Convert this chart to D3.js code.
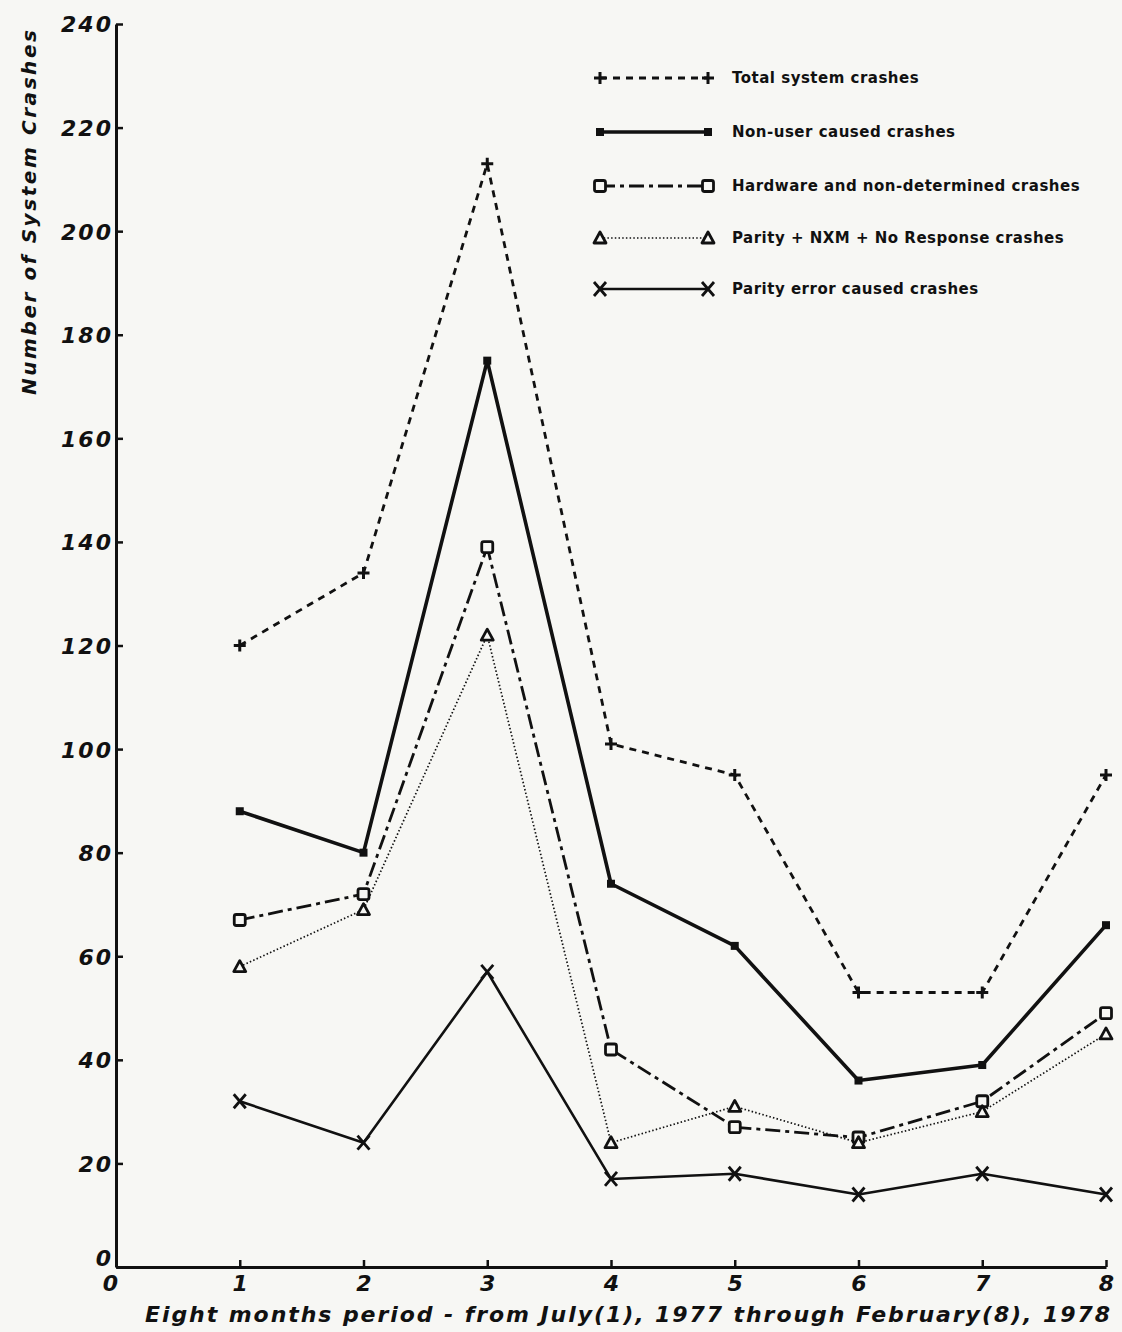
<!DOCTYPE html>
<html>
<head>
<meta charset="utf-8">
<script src="https://cdn.jsdelivr.net/npm/d3@7"></script>
<style>
  html, body { margin: 0; padding: 0; background: #f7f7f4; }
  svg { display: block; }
  text { font-family: "DejaVu Sans", "Liberation Sans", Arial, sans-serif; fill: #111; }
</style>
</head>
<body>
<svg id="chart" width="1122" height="1332"></svg>
<script>
// ---- data ----
const months = [1, 2, 3, 4, 5, 6, 7, 8];
const xTickValues = [0, 1, 2, 3, 4, 5, 6, 7, 8];
const yTickValues = [0, 20, 40, 60, 80, 100, 120, 140, 160, 180, 200, 220, 240];
const seriesNames = [
  "Total system crashes",
  "Non-user caused crashes",
  "Hardware and non-determined crashes",
  "Parity + NXM + No Response crashes",
  "Parity error caused crashes"
];
const totalCrashes     = [120, 134, 213, 101, 95, 53, 53, 95];
const nonUserCrashes   = [88, 80, 175, 74, 62, 36, 39, 66];
const hardwareCrashes  = [67, 72, 139, 42, 27, 25, 32, 49];
const parityNxmCrashes = [58, 69, 122, 24, 31, 24, 30, 45];
const parityErrCrashes = [32, 24, 57, 17, 18, 14, 18, 14];
const xTitle = "Eight months period - from July(1), 1977 through February(8), 1978";
const yTitle = "Number of System Crashes";

// ---- styles ----
const styles = [
  { values: totalCrashes,     marker: "plus",  width: 2.8, dash: "7,6" },
  { values: nonUserCrashes,   marker: "fsq",   width: 3.6, dash: null },
  { values: hardwareCrashes,  marker: "osq",   width: 2.8, dash: "15,5,4,5" },
  { values: parityNxmCrashes, marker: "tri",   width: 1.7, dash: "1.5,2.2" },
  { values: parityErrCrashes, marker: "cross", width: 2.6, dash: null }
];
const ink = "#111";
const paper = "#f7f7f4";

const svg = d3.select("#chart");
const x = d3.scaleLinear().domain([0, 8]).range([116, 1106]);
const y = d3.scaleLinear().domain([0, 240]).range([1267, 24]);

// ---- axes ----
const yAxis = d3.axisLeft(y).tickValues(yTickValues).tickSizeInner(-7).tickSizeOuter(0).tickPadding(3);
const gy = svg.append("g").attr("transform", `translate(${x(0)},0)`).call(yAxis);
gy.select(".domain").attr("stroke", ink).attr("stroke-width", 3);
gy.selectAll(".tick line").attr("stroke", ink).attr("stroke-width", 2.5);
gy.selectAll(".tick text")
  .style("font-family", "DejaVu Sans, sans-serif")
  .style("font-size", "22px").style("font-weight", "bold").style("font-style", "italic")
  .style("letter-spacing", "2px").attr("fill", ink)
  .attr("dy", d => d === 0 ? "-0.05em" : "0.36em");

const xAxis = d3.axisBottom(x).tickValues(xTickValues).tickSizeInner(-7).tickSizeOuter(0).tickPadding(9);
const gx = svg.append("g").attr("transform", `translate(0,${y(0)})`).call(xAxis);
gx.select(".domain").attr("stroke", ink).attr("stroke-width", 3);
gx.selectAll(".tick line").attr("stroke", ink).attr("stroke-width", 2.5);
gx.selectAll(".tick line").filter(d => d === 0).remove();
gx.selectAll(".tick text")
  .style("font-family", "DejaVu Sans, sans-serif")
  .style("font-size", "22px").style("font-weight", "bold").style("font-style", "italic")
  .attr("fill", ink).attr("dx", d => d === 0 ? -6 : 0).attr("dy", "0.68em");

// titles
svg.append("text")
  .attr("x", 1110).attr("y", 1322).attr("text-anchor", "end")
  .attr("textLength", 965).attr("lengthAdjust", "spacing")
  .style("font-size", "22px").style("font-weight", "bold").style("font-style", "italic")
  .text(xTitle);

svg.append("text")
  .attr("transform", "translate(36,395) rotate(-90)")
  .attr("text-anchor", "start")
  .attr("textLength", 365).attr("lengthAdjust", "spacing")
  .style("font-size", "20px").style("font-weight", "bold").style("font-style", "italic")
  .text(yTitle);

// ---- markers ----
function drawMarker(g, type, cx, cy) {
  if (type === "plus") {
    g.append("path").attr("d", `M${cx-6},${cy}H${cx+6}M${cx},${cy-6}V${cy+6}`)
      .attr("stroke", ink).attr("stroke-width", 3).attr("fill", "none");
  } else if (type === "fsq") {
    g.append("rect").attr("x", cx-4).attr("y", cy-4).attr("width", 8).attr("height", 8).attr("fill", ink);
  } else if (type === "osq") {
    g.append("rect").attr("x", cx-5.5).attr("y", cy-5.5).attr("width", 11).attr("height", 11).attr("rx", 2)
      .attr("fill", paper).attr("stroke", ink).attr("stroke-width", 2.8);
  } else if (type === "tri") {
    g.append("path").attr("d", `M${cx},${cy-6}L${cx+6},${cy+5}L${cx-6},${cy+5}Z`)
      .attr("fill", paper).attr("stroke", ink).attr("stroke-width", 2.8).attr("stroke-linejoin", "round");
  } else if (type === "cross") {
    g.append("path").attr("d", `M${cx-6},${cy-7}L${cx+6},${cy+7}M${cx+6},${cy-7}L${cx-6},${cy+7}`)
      .attr("stroke", ink).attr("stroke-width", 2.8).attr("fill", "none");
  }
}

// ---- series ----
const line = d3.line().x((d, i) => x(months[i])).y(d => y(d));
styles.forEach(s => {
  const g = svg.append("g");
  g.append("path").datum(s.values).attr("d", line)
    .attr("fill", "none").attr("stroke", ink).attr("stroke-width", s.width)
    .attr("stroke-dasharray", s.dash).attr("stroke-linejoin", "round");
  s.values.forEach((v, i) => drawMarker(g, s.marker, x(months[i]), y(v)));
});

// ---- legend ----
const legendYs = [78, 132, 186, 238, 289];
styles.forEach((s, i) => {
  const g = svg.append("g");
  const ly = legendYs[i];
  g.append("line").attr("x1", 600).attr("x2", 708).attr("y1", ly).attr("y2", ly)
    .attr("stroke", ink).attr("stroke-width", s.width).attr("stroke-dasharray", s.dash);
  drawMarker(g, s.marker, 600, ly);
  drawMarker(g, s.marker, 708, ly);
  g.append("text").attr("x", 732).attr("y", ly).attr("dy", "0.36em")
    .style("font-size", "15px").style("font-weight", "bold")
    .style("letter-spacing", "0.5px")
    .text(seriesNames[i]);
});
</script>
</body>
</html>
